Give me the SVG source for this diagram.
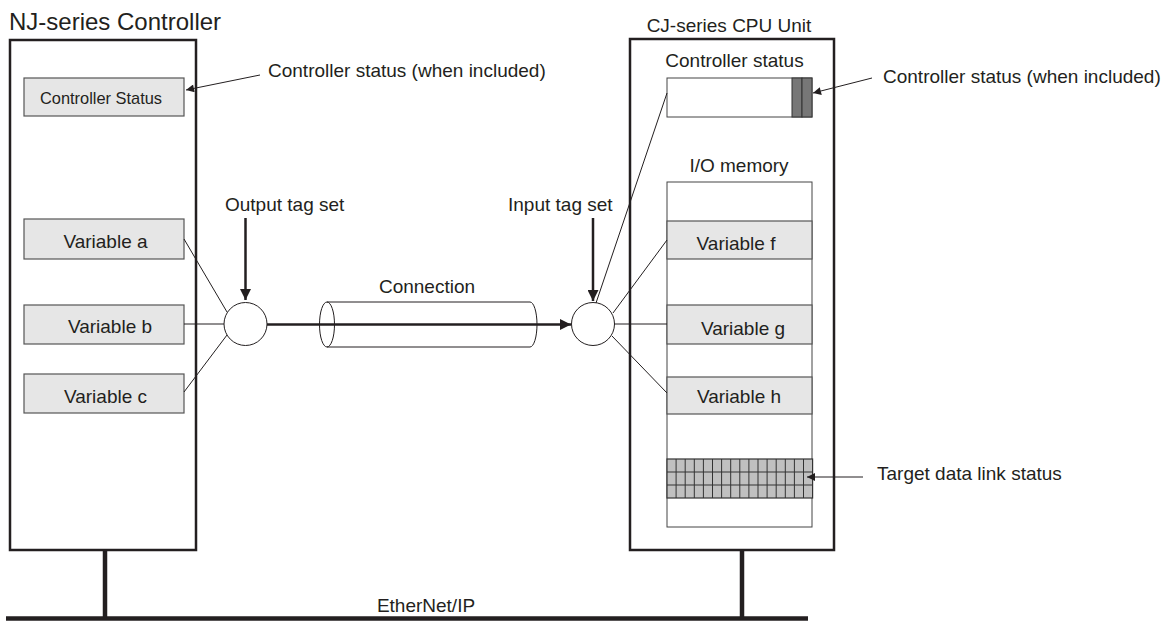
<svg xmlns="http://www.w3.org/2000/svg" width="1174" height="621" viewBox="0 0 1174 621">
<style>
text{font-family:"Liberation Sans",Arial,sans-serif;fill:#231f20}
.t19{font-size:19px}
.unit{fill:#fff;stroke:#231f20;stroke-width:2.5}
.var{fill:#e6e6e6;stroke:#555;stroke-width:1.2}
.thin{fill:none;stroke:#231f20;stroke-width:1}
.thick{fill:none;stroke:#231f20;stroke-width:2.5}
.bus{fill:none;stroke:#231f20;stroke-width:4.5}
.mid{text-anchor:middle}
</style>
<defs>
<marker id="ah" viewBox="0 0 10 10" refX="10" refY="5" markerWidth="10" markerHeight="8" markerUnits="userSpaceOnUse" orient="auto">
<path d="M0,0L10,5L0,10z" fill="#231f20"/>
</marker>
<marker id="ahb" viewBox="0 0 10 10" refX="10" refY="5" markerWidth="22" markerHeight="11" markerUnits="userSpaceOnUse" orient="auto">
<path d="M0,0L10,5L0,10z" fill="#231f20"/>
</marker>
</defs>

<g id="network">
<line class="bus" x1="6" y1="618.5" x2="808" y2="618.5"/>
<line class="bus" x1="105" y1="550" x2="105" y2="617"/>
<line class="bus" x1="742" y1="550" x2="742" y2="617"/>
<text class="t19 mid" x="426" y="612">EtherNet/IP</text>
</g>

<g id="nj-controller">
<text x="9" y="30" style="font-size:24px">NJ-series Controller</text>
<rect class="unit" x="10" y="40" width="186" height="510"/>
</g>
<g id="nj-status">
<rect class="var" x="24" y="78" width="160" height="38"/>
<text class="mid" x="101" y="104" style="font-size:16.4px">Controller Status</text>
</g>
<g id="var-a">
<rect class="var" x="24" y="219" width="160" height="40"/>
<text class="t19 mid" x="105.5" y="248">Variable a</text>
</g>
<g id="var-b">
<rect class="var" x="24" y="305" width="160" height="39"/>
<text class="t19 mid" x="110" y="333">Variable b</text>
</g>
<g id="var-c">
<rect class="var" x="24" y="374" width="160" height="39"/>
<text class="t19 mid" x="105.5" y="403">Variable c</text>
</g>

<g id="cj-unit">
<text class="t19 mid" x="729" y="32">CJ-series CPU Unit</text>
<rect class="unit" x="630" y="39" width="204" height="511"/>
<text class="t19 mid" x="734.5" y="67">Controller status</text>
<text class="t19 mid" x="739" y="172">I/O memory</text>
</g>
<g id="cj-status">
<rect x="667" y="78" width="145" height="39" fill="#fff" stroke="#444" stroke-width="1"/>
<rect x="792" y="78" width="10" height="39" fill="#777" stroke="#333" stroke-width="1"/>
<rect x="802" y="78" width="10" height="39" fill="#777" stroke="#333" stroke-width="1"/>
</g>
<g id="io-memory">
<rect x="667" y="182" width="145" height="345" fill="#fff" stroke="#444" stroke-width="1"/>
</g>
<g id="var-f">
<rect class="var" x="667" y="221" width="145" height="38"/>
<text class="t19 mid" x="736" y="250">Variable f</text>
</g>
<g id="var-g">
<rect class="var" x="667" y="305" width="145" height="39"/>
<text class="t19 mid" x="743" y="335">Variable g</text>
</g>
<g id="var-h">
<rect class="var" x="667" y="377" width="145" height="37"/>
<text class="t19 mid" x="739" y="403">Variable h</text>
</g>
<g id="link-status">
<rect x="667" y="459" width="145.6" height="39" fill="#c0c0c0" stroke="#333" stroke-width="1.2"/>
<path d="M667,472H812.6M667,485H812.6M676.1,459V498M685.2,459V498M694.3,459V498M703.4,459V498M712.5,459V498M721.6,459V498M730.7,459V498M739.8,459V498M748.9,459V498M758,459V498M767.1,459V498M776.2,459V498M785.3,459V498M794.4,459V498M803.5,459V498" stroke="#333" stroke-width="1" fill="none"/>
</g>

<g id="output-tag-set">
<circle cx="245.5" cy="324" r="21.5" fill="#fff" stroke="#231f20" stroke-width="1"/>
<text class="t19" x="225" y="211">Output tag set</text>
</g>
<g id="input-tag-set">
<circle cx="593" cy="324" r="21.5" fill="#fff" stroke="#231f20" stroke-width="1"/>
<text class="t19" x="508" y="211">Input tag set</text>
</g>
<g id="connection">
<path class="thin" d="M327,302H530A7,22.5 0 0 1 530,347H327"/>
<ellipse class="thin" cx="327" cy="324.5" rx="7.5" ry="22.5"/>
<text class="t19 mid" x="427" y="293">Connection</text>
</g>

<g id="connectors">
<line class="thin" x1="184" y1="239" x2="227" y2="312"/>
<line class="thin" x1="184" y1="324" x2="224" y2="324"/>
<line class="thin" x1="184" y1="392" x2="227" y2="335"/>
<line class="thin" x1="613" y1="313" x2="667" y2="240"/>
<line class="thin" x1="614.5" y1="324" x2="667" y2="324"/>
<line class="thin" x1="612" y1="336" x2="667" y2="393"/>
<line class="thin" x1="596" y1="303" x2="667" y2="93"/>
<line class="thick" x1="267" y1="324.5" x2="571" y2="324.5" marker-end="url(#ahb)"/>
<line class="thick" x1="245.5" y1="218" x2="245.5" y2="300" marker-end="url(#ahb)"/>
<line class="thick" x1="593" y1="218" x2="593" y2="301" marker-end="url(#ahb)"/>
<line class="thin" x1="260" y1="75" x2="186" y2="90" marker-end="url(#ah)"/>
<line class="thin" x1="872" y1="78" x2="813" y2="93" marker-end="url(#ah)"/>
<line class="thin" x1="863" y1="477" x2="807" y2="477" marker-end="url(#ah)"/>
</g>
<g id="labels">
<text class="t19" x="268" y="77">Controller status (when included)</text>
<text class="t19" x="883" y="83">Controller status (when included)</text>
<text class="t19" x="877" y="480">Target data link status</text>
</g>
</svg>
